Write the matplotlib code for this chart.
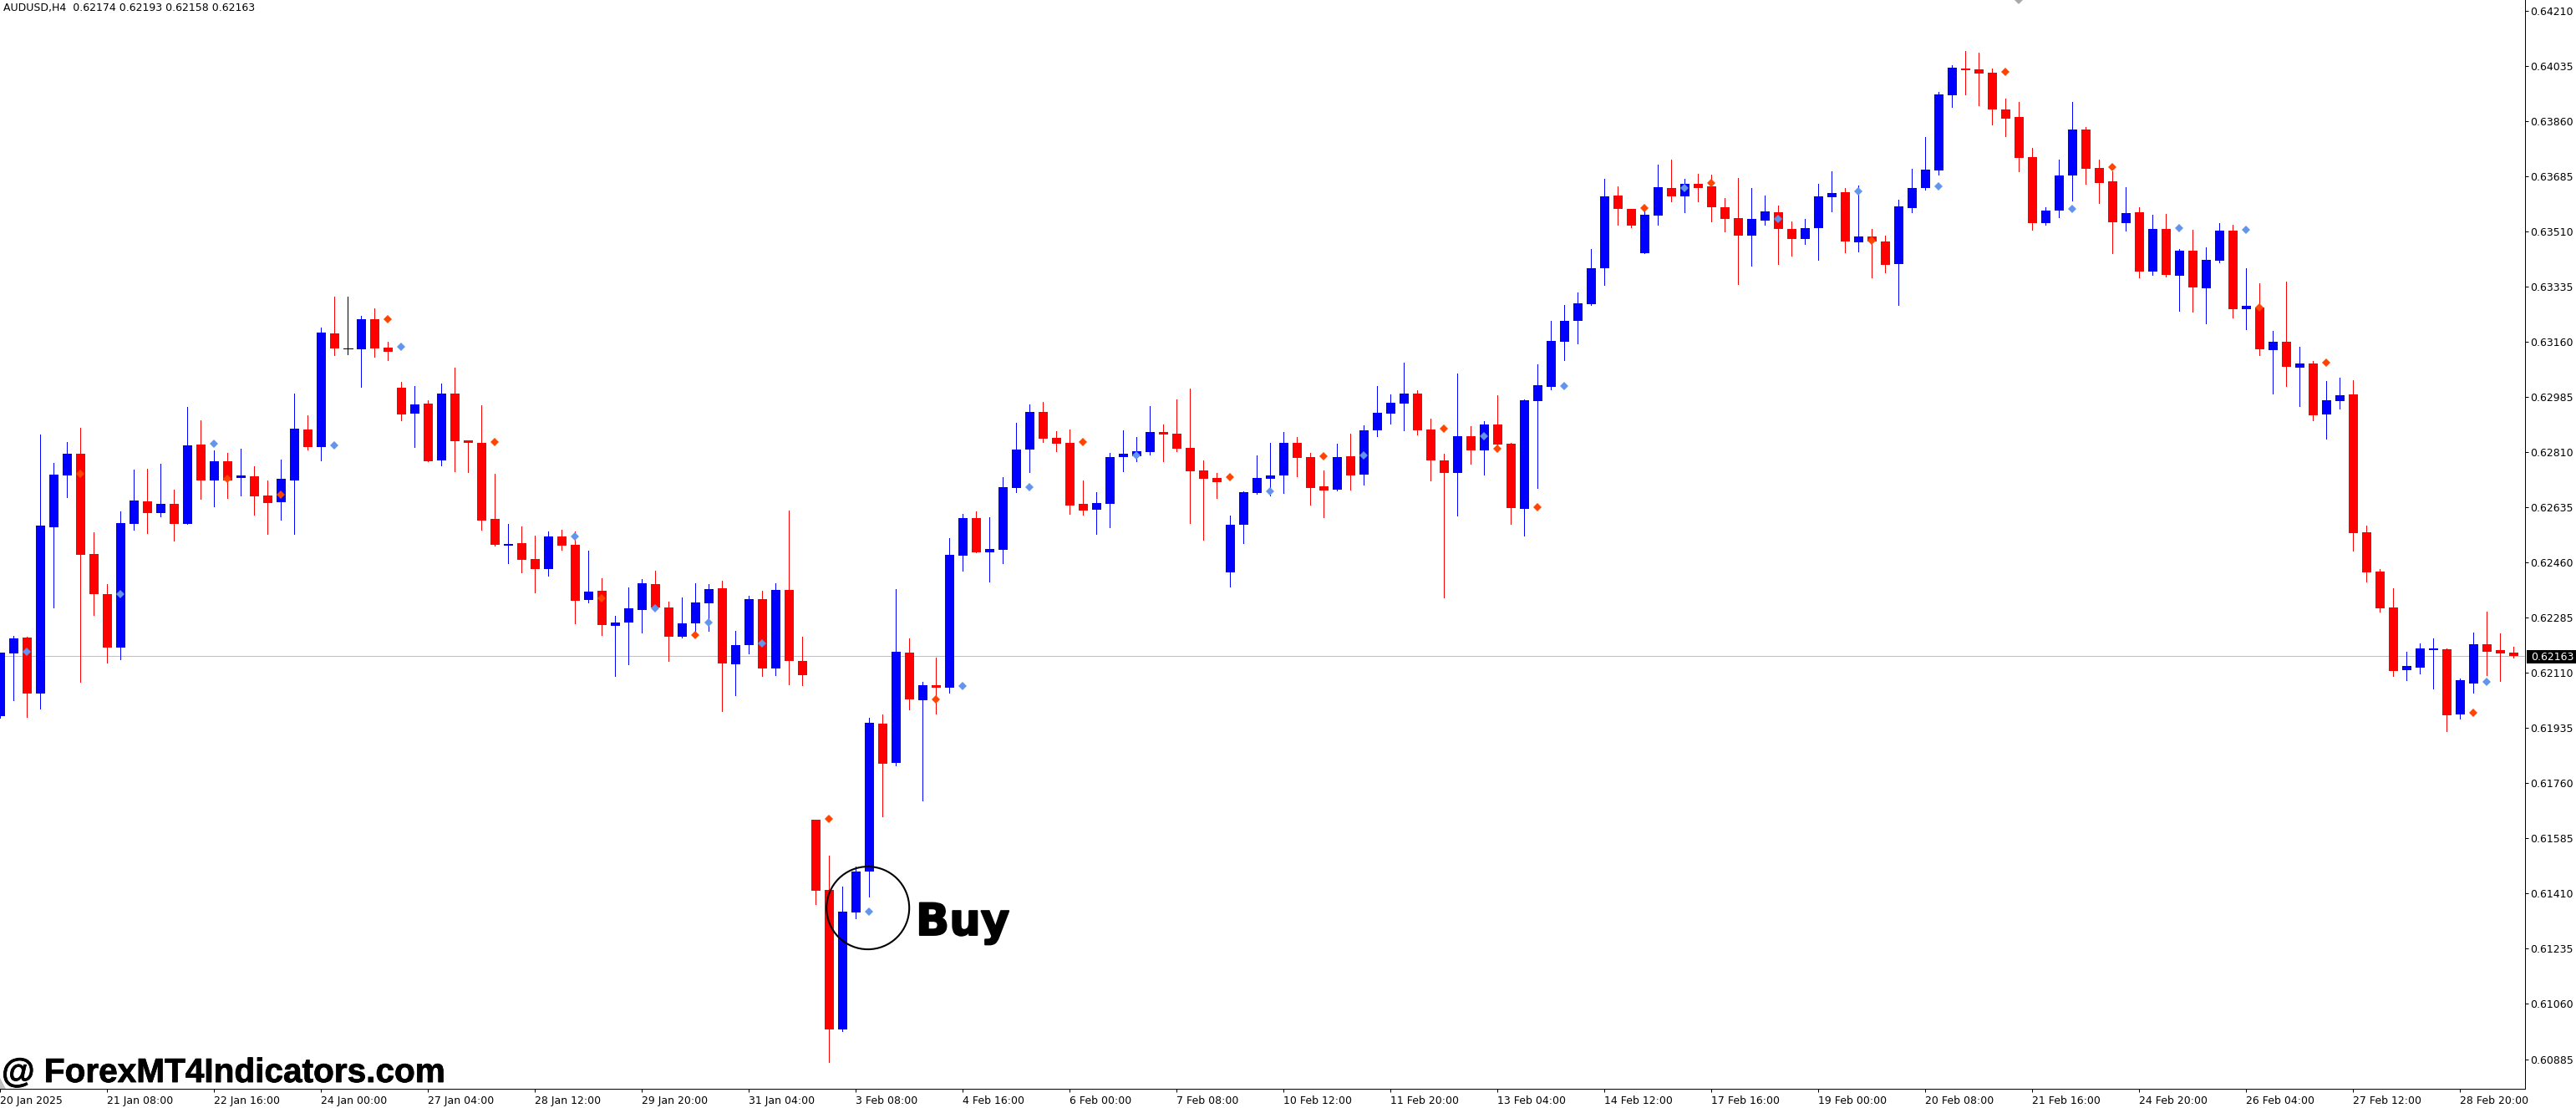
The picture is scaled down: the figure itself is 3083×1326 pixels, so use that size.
import numpy as np
import matplotlib
import matplotlib.pyplot as plt
import matplotlib.patheffects as pe
from matplotlib.patches import Ellipse, Polygon, Rectangle

matplotlib.use('Agg')

W = 3083
H = 1326

# prices in points (1e-5)
opens = [61973, 62171, 62222, 62044, 62572, 62736, 62805, 62487, 62360, 62190,
         62582, 62654, 62617, 62646, 62582, 62834, 62720, 62781, 62728, 62733,
         62673, 62651, 62720, 62882, 62826, 63187, 63140, 63137, 63231, 63141,
         63015, 62932, 62964, 62784, 62996, 62847, 62839, 62598, 62514, 62521,
         62471, 62439, 62543, 62516, 62341, 62370, 62259, 62270, 62309, 62392,
         62317, 62225, 62267, 62331, 62378, 62137, 62198, 62344, 62124, 62373,
         62148, 61645, 61421, 60979, 61350, 61480, 61949, 61825, 62175, 62023,
         62071, 62062, 62481, 62601, 62492, 62500, 62696, 62818, 62938, 62855,
         62839, 62646, 62627, 62646, 62794, 62797, 62810, 62874, 62869, 62824,
         62752, 62728, 62429, 62580, 62680, 62726, 62736, 62839, 62794, 62702,
         62691, 62797, 62739, 62879, 62932, 62964, 62996, 62882, 62784, 62744,
         62861, 62816, 62898, 62837, 62630, 62972, 63017, 63160, 63226, 63279,
         63393, 63624, 63581, 63441, 63560, 63648, 63621, 63661, 63653, 63587,
         63552, 63497, 63544, 63571, 63518, 63486, 63521, 63619, 63634, 63475,
         63494, 63478, 63407, 63584, 63648, 63703, 63942, 64027, 64024, 64013,
         63897, 63873, 63746, 63536, 63576, 63687, 63833, 63711, 63669, 63536,
         63571, 63383, 63518, 63369, 63449, 63330, 63417, 63513, 63263, 63268,
         63134, 63160, 63078, 63092, 62930, 62972, 62993, 62556, 62431, 62317,
         62119, 62127, 62183, 62185, 61978, 62077, 62200, 62183, 62174]
closes = [62174, 62220, 62044, 62577, 62739, 62805, 62485, 62360, 62190, 62585,
          62657, 62617, 62646, 62582, 62832, 62720, 62781, 62720, 62736, 62670,
          62648, 62726, 62885, 62826, 63190, 63139, 63140, 63231, 63139, 63128,
          62929, 62962, 62781, 62996, 62845, 62839, 62593, 62516, 62519, 62468,
          62439, 62543, 62514, 62339, 62368, 62262, 62270, 62315, 62394, 62317,
          62225, 62267, 62333, 62376, 62140, 62198, 62344, 62124, 62373, 62148,
          62103, 61419, 60979, 61352, 61480, 61951, 61822, 62177, 62026, 62071,
          62062, 62485, 62601, 62492, 62503, 62699, 62818, 62938, 62853, 62837,
          62641, 62625, 62649, 62794, 62805, 62813, 62874, 62866, 62821, 62749,
          62726, 62715, 62580, 62683, 62728, 62736, 62839, 62792, 62696, 62688,
          62794, 62736, 62879, 62935, 62967, 62996, 62879, 62784, 62744, 62861,
          62816, 62898, 62834, 62633, 62975, 63022, 63163, 63226, 63282, 63393,
          63621, 63581, 63528, 63563, 63650, 63621, 63661, 63648, 63587, 63550,
          63497, 63550, 63574, 63518, 63486, 63521, 63621, 63632, 63478, 63494,
          63478, 63404, 63589, 63648, 63706, 63945, 64029, 64021, 64011, 63897,
          63868, 63743, 63536, 63576, 63687, 63833, 63709, 63664, 63539, 63568,
          63383, 63518, 63372, 63449, 63332, 63420, 63513, 63263, 63273, 63136,
          63160, 63080, 63092, 62926, 62974, 62990, 62553, 62429, 62315, 62116,
          62132, 62188, 62188, 61976, 62087, 62200, 62177, 62171, 62163]
highs = [62174, 62227, 62224, 62866, 62776, 62842, 62887, 62556, 62392, 62622,
         62754, 62757, 62773, 62691, 62953, 62911, 62816, 62807, 62821, 62766,
         62720, 62786, 62996, 62927, 63205, 63303, 63303, 63243, 63266, 63160,
         63033, 63019, 62975, 63028, 63078, 62847, 62959, 62741, 62582, 62574,
         62545, 62559, 62564, 62559, 62498, 62410, 62291, 62381, 62408, 62434,
         62336, 62349, 62394, 62392, 62402, 62243, 62354, 62370, 62394, 62625,
         62225, 61645, 61530, 61432, 61497, 61968, 61978, 62376, 62220, 62081,
         62158, 62537, 62614, 62622, 62603, 62731, 62903, 62961, 62969, 62877,
         62882, 62720, 62683, 62808, 62879, 62858, 62956, 62898, 62977, 63012,
         62784, 62744, 62609, 62686, 62800, 62839, 62874, 62858, 62808, 62752,
         62837, 62869, 62895, 63020, 62993, 63094, 63006, 62916, 62805, 63059,
         62892, 62908, 62991, 62839, 62977, 63089, 63226, 63277, 63316, 63454,
         63677, 63653, 63581, 63573, 63722, 63738, 63677, 63693, 63690, 63616,
         63680, 63648, 63624, 63592, 63542, 63550, 63661, 63701, 63648, 63656,
         63518, 63497, 63611, 63709, 63809, 63952, 64037, 64082, 64077, 64027,
         63931, 63921, 63775, 63587, 63738, 63921, 63841, 63738, 63701, 63650,
         63587, 63563, 63566, 63454, 63515, 63460, 63536, 63531, 63394, 63346,
         63194, 63351, 63144, 63099, 63036, 63046, 63038, 62577, 62439, 62379,
         62177, 62204, 62219, 62188, 62092, 62238, 62304, 62235, 62193]
lows = [61967, 62024, 61969, 61997, 62317, 62667, 62082, 62293, 62143, 62153,
        62564, 62554, 62607, 62529, 62582, 62662, 62638, 62664, 62673, 62611,
        62551, 62595, 62551, 62819, 62784, 63118, 63121, 63017, 63112, 63102,
        62911, 62826, 62781, 62768, 62749, 62747, 62564, 62514, 62458, 62429,
        62365, 62418, 62500, 62267, 62333, 62230, 62100, 62137, 62238, 62317,
        62148, 62222, 62239, 62243, 61989, 62039, 62172, 62100, 62103, 62074,
        62071, 61376, 60876, 60974, 61331, 61400, 61655, 61816, 61994, 61705,
        61981, 62047, 62434, 62492, 62400, 62458, 62683, 62747, 62842, 62813,
        62614, 62612, 62551, 62572, 62749, 62781, 62802, 62781, 62813, 62585,
        62532, 62665, 62384, 62521, 62678, 62672, 62680, 62733, 62643, 62604,
        62688, 62691, 62707, 62861, 62900, 62879, 62866, 62720, 62349, 62609,
        62773, 62739, 62834, 62582, 62545, 62696, 63009, 63102, 63155, 63277,
        63340, 63531, 63523, 63441, 63531, 63605, 63571, 63605, 63542, 63510,
        63343, 63401, 63531, 63407, 63433, 63470, 63420, 63574, 63444, 63446,
        63364, 63380, 63277, 63571, 63642, 63690, 63905, 63945, 63910, 63849,
        63812, 63701, 63515, 63531, 63555, 63608, 63661, 63600, 63441, 63513,
        63364, 63372, 63367, 63258, 63255, 63218, 63412, 63237, 63200, 63117,
        62996, 63020, 62957, 62911, 62853, 62948, 62498, 62400, 62304, 62100,
        62087, 62108, 62061, 61925, 61965, 62048, 62104, 62084, 62158]

# arrow signals: bar index and price
buy_bars = [2, 9, 16, 25, 30, 43, 49, 53, 57, 65, 72, 77, 85, 95, 102, 111, 117,
            126, 133, 139, 145, 155, 163, 168, 186]
buy_prices = [62176, 62361, 62836, 62831, 63143, 62544, 62314, 62271, 62203,
              61354, 62067, 62700, 62799, 62685, 62799, 62862, 63021, 63649,
              63549, 63636, 63652, 63581, 63520, 63514, 62081]
sell_bars = [6, 17, 21, 29, 37, 45, 52, 62, 70, 81, 92, 99, 108, 112, 115, 123,
             128, 140, 150, 158, 169, 174, 185]
sell_prices = [62741, 62726, 62674, 63233, 62841, 62346, 62229, 61646, 62027,
               62841, 62730, 62796, 62884, 62820, 62635, 63583, 63663, 63481,
               64015, 63713, 63268, 63094, 61983]

last_price = 0.62163
price_ticks = [0.64210, 0.64035, 0.63860, 0.63685, 0.63510, 0.63335, 0.63160,
               0.62985, 0.62810, 0.62635, 0.62460, 0.62285, 0.62110, 0.61935,
               0.61760, 0.61585, 0.61410, 0.61235, 0.61060, 0.60885]
time_labels = ['20 Jan 2025', '21 Jan 08:00', '22 Jan 16:00', '24 Jan 00:00',
               '27 Jan 04:00', '28 Jan 12:00', '29 Jan 20:00', '31 Jan 04:00',
               '3 Feb 08:00', '4 Feb 16:00', '6 Feb 00:00', '7 Feb 08:00',
               '10 Feb 12:00', '11 Feb 20:00', '13 Feb 04:00', '14 Feb 12:00',
               '17 Feb 16:00', '19 Feb 00:00', '20 Feb 08:00', '21 Feb 16:00',
               '24 Feb 20:00', '26 Feb 04:00', '27 Feb 12:00', '28 Feb 20:00']
time_bars = [8 * i for i in range(len(time_labels))]


def px(x, y):
    # image pixels (y down) to figure fractions
    return x / W, 1 - y / H


o = np.array(opens) / 1e5
c = np.array(closes) / 1e5
h = np.array(highs) / 1e5
l = np.array(lows) / 1e5
x = np.arange(len(o))
up = c > o
down = c < o
doji = c == o

fig = plt.figure(figsize=(W / 100, H / 100), dpi=100, facecolor='white')
right = 3022
bottom = 1303
ax = fig.add_axes([0, 1 - bottom / H, right / W, bottom / H])
ax.set_xlim(-0.03, (right - 0.5) / 16)
ax.set_ylim(0.60791, 0.64244)

ax.axhline(last_price, color='#c0c0c0', lw=0.72, zorder=1)

# candles
ax.vlines(x[up], l[up], h[up], color='#0000ff', lw=0.72, antialiased=False, zorder=2)
ax.vlines(x[down], l[down], h[down], color='#ff0000', lw=0.72, antialiased=False, zorder=2)
ax.vlines(x[doji], l[doji], h[doji], color='black', lw=0.72, antialiased=False, zorder=2)
ax.hlines(o[doji], x[doji] - 0.34, x[doji] + 0.34, color='black', lw=0.72,
          antialiased=False, zorder=3)
ax.bar(x[up], (c - o)[up], bottom=o[up], width=0.69, color='#0000ff', antialiased=False, zorder=3)
ax.bar(x[down], (o - c)[down], bottom=c[down], width=0.69, color='#ff0000', antialiased=False, zorder=3)

# signals
ax.plot(buy_bars, np.array(buy_prices) / 1e5, 'D', color='#6495ed', ms=5.6, mew=0, zorder=4)
ax.plot(sell_bars, np.array(sell_prices) / 1e5, 'D', color='#ff4500', ms=5.6, mew=0, zorder=4)
# grey object mark cut by the top edge
ax.plot([151], [0.64244], 'D', color='#a9a9a9', ms=5.6, mew=0, zorder=4)

# axes
for s in ['top', 'left']:
    ax.spines[s].set_visible(False)
for s in ['right', 'bottom']:
    ax.spines[s].set_linewidth(0.72)
ax.yaxis.tick_right()
ax.set_yticks(price_ticks)
ax.set_yticklabels(['%.5f' % p for p in price_ticks], fontsize=9, family='DejaVu Sans')
ax.tick_params(axis='y', length=3, width=0.72, pad=1.5)
ax.set_xticks(time_bars)
ax.set_xticklabels(time_labels, fontsize=9, family='DejaVu Sans', ha='left')
ax.tick_params(axis='x', length=3, width=0.72, pad=3)

# last price tag
x0, y0 = px(3024, 794)
x1, y1 = px(3083, 778)
fig.add_artist(Rectangle((x0, y0), x1 - x0, y1 - y0, fc='black', ec='none',
                         transform=fig.transFigure, zorder=5))
fig.text(*px(3029, 786), '%.5f' % last_price, fontsize=9, color='white', va='center',
         ha='left', family='DejaVu Sans', zorder=6)

# texts and drawings on top of the chart
fig.text(*px(4, 9), 'AUDUSD,H4  0.62174 0.62193 0.62158 0.62163', fontsize=9,
         va='center', ha='left', family='DejaVu Sans')
fig.add_artist(Ellipse(px(1038.7, 1086.6), 99 / W, 99 / H, fill=False, ec='black', lw=1.5,
                       transform=fig.transFigure))
fig.text(*px(1096, 1119), 'Buy', fontsize=38, fontweight='bold', family='DejaVu Sans',
         va='baseline', ha='left',
         path_effects=[pe.withStroke(linewidth=1.4, foreground='black')])
fig.text(*px(2, 1295), '@ ForexMT4Indicators.com', fontsize=29.2, fontweight='bold',
         family='Liberation Sans', va='baseline', ha='left',
         path_effects=[pe.withStroke(linewidth=0.6, foreground='black')])
fig.add_artist(Polygon([px(0, 1290), px(0, 1303), px(7, 1303)], closed=True, fc='#c0c0c0',
                       ec='none', transform=fig.transFigure))

fig.savefig('out.png', dpi=100)
